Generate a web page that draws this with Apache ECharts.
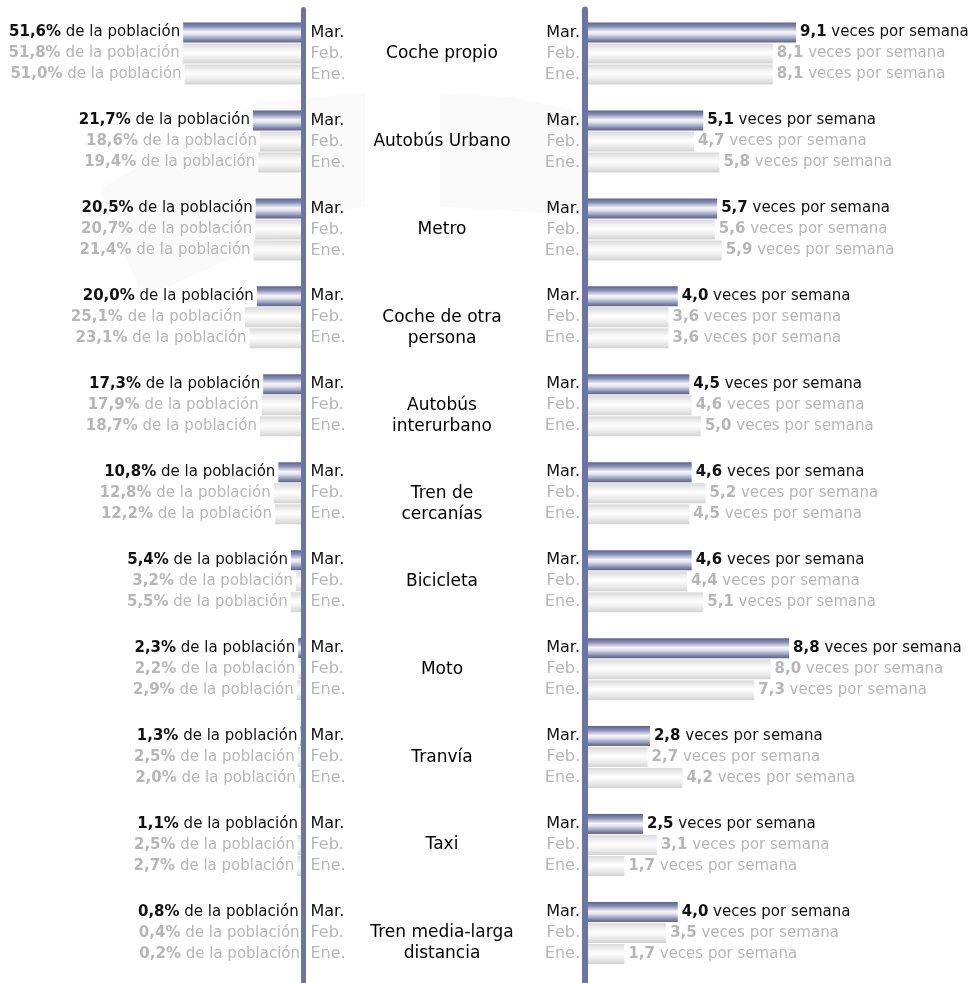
<!DOCTYPE html>
<html>
<head>
<meta charset="utf-8">
<script src="https://cdn.jsdelivr.net/npm/echarts@6/dist/echarts.min.js"></script>
<style>
html,body{margin:0;padding:0;background:#fff;}
#chart{width:975px;height:983px;}
</style>
</head>
<body>
<div id="chart"></div>
<script>
// ---- data ----
const categories = ['Coche propio', 'Autobús Urbano', 'Metro', 'Coche de otra\npersona', 'Autobús\ninterurbano',
  'Tren de\ncercanías', 'Bicicleta', 'Moto', 'Tranvía', 'Taxi', 'Tren media-larga\ndistancia'];
const months = ['Mar.', 'Feb.', 'Ene.'];
const pctMar = [51.6, 21.7, 20.5, 20.0, 17.3, 10.8, 5.4, 2.3, 1.3, 1.1, 0.8];
const pctFeb = [51.8, 18.6, 20.7, 25.1, 17.9, 12.8, 3.2, 2.2, 2.5, 2.5, 0.4];
const pctEne = [51.0, 19.4, 21.4, 23.1, 18.7, 12.2, 5.5, 2.9, 2.0, 2.7, 0.2];
const freqMar = [9.1, 5.1, 5.7, 4.0, 4.5, 4.6, 4.6, 8.8, 2.8, 2.5, 4.0];
const freqFeb = [8.1, 4.7, 5.6, 3.6, 4.6, 5.2, 4.4, 8.0, 2.7, 3.1, 3.5];
const freqEne = [8.1, 5.8, 5.9, 3.6, 5.0, 4.5, 5.1, 7.3, 4.2, 1.7, 1.7];
const pctSeries = [pctMar, pctFeb, pctEne];
const freqSeries = [freqMar, freqFeb, freqEne];

// ---- styles ----
const FONT = '"DejaVu Sans", sans-serif';
const AXIS_COLOR = '#6b74a3';
const DARK = '#111111';
const GRAY = '#b6b6b6';
const G = echarts.graphic.LinearGradient;
const marGrad = () => new G(0, 0, 0, 1, [
  {offset: 0, color: '#5a6291'}, {offset: 0.2, color: '#878db3'},
  {offset: 0.47, color: '#f6f6fa'}, {offset: 0.6, color: '#e2e3ec'},
  {offset: 0.85, color: '#878db3'}, {offset: 1, color: '#5a6291'}]);
const grayGrad = () => new G(0, 0, 0, 1, [
  {offset: 0, color: '#dadada'}, {offset: 0.45, color: '#ffffff'},
  {offset: 0.75, color: '#ebebeb'}, {offset: 1, color: '#d2d2d2'}]);
const fmt = v => v.toFixed(1).replace('.', ',');

const TOP = 9.5, HEIGHT = 967.5;
const chart = echarts.init(document.getElementById('chart'), null, {renderer: 'canvas'});

const catAxis = (gridIndex, position, extra) => Object.assign({
  type: 'category', data: categories, inverse: true, gridIndex: gridIndex, position: position,
  axisTick: {show: false}, axisLabel: {show: false}, splitLine: {show: false}
}, extra);

const series = [];
months.forEach((m, i) => {
  const dark = i === 0;
  const col = dark ? DARK : GRAY;
  // left: % of population
  series.push({
    type: 'bar', name: m + ' pct', xAxisIndex: 0, yAxisIndex: 0, data: pctSeries[i],
    barWidth: 20, barGap: '5%', silent: true,
    itemStyle: {color: dark ? marGrad() : grayGrad()},
    label: {show: true, position: 'left', distance: 3, fontFamily: FONT,
      formatter: p => '{b|' + fmt(p.value) + '%}{n| de la población}',
      rich: {b: {fontFamily: FONT, fontSize: 15, fontWeight: 'bold', color: col},
             n: {fontFamily: FONT, fontSize: 15, color: col}}}
  });
  // left month labels
  series.push({
    type: 'bar', name: m + ' pct-m', xAxisIndex: 0, yAxisIndex: 1, data: pctSeries[i],
    barWidth: 20, barGap: '5%', silent: true,
    itemStyle: {color: 'rgba(0,0,0,0)'},
    label: {show: true, position: 'right', distance: 7, formatter: m,
      fontFamily: FONT, fontSize: 16, color: col}
  });
  // right: frequency
  series.push({
    type: 'bar', name: m + ' freq', xAxisIndex: 1, yAxisIndex: 2, data: freqSeries[i],
    barWidth: 20, barGap: '5%', silent: true,
    itemStyle: {color: dark ? marGrad() : grayGrad()},
    label: {show: true, position: 'right', distance: 4, fontFamily: FONT,
      formatter: p => '{b|' + fmt(p.value) + '}{n| veces por semana}',
      rich: {b: {fontFamily: FONT, fontSize: 15, fontWeight: 'bold', color: col},
             n: {fontFamily: FONT, fontSize: 15, color: col}}}
  });
  // right month labels
  series.push({
    type: 'bar', name: m + ' freq-m', xAxisIndex: 1, yAxisIndex: 3, data: freqSeries[i],
    barWidth: 20, barGap: '5%', silent: true,
    itemStyle: {color: 'rgba(0,0,0,0)'},
    label: {show: true, position: 'left', distance: 5, formatter: m,
      fontFamily: FONT, fontSize: 16, color: col}
  });
});

chart.setOption({
  animation: false,
  backgroundColor: '#ffffff',
  grid: [
    {left: 5, width: 298.5, top: TOP, height: HEIGHT},
    {left: 585, width: 371, top: TOP, height: HEIGHT}
  ],
  xAxis: [
    {type: 'value', gridIndex: 0, min: 0, max: 128, inverse: true, show: false},
    {type: 'value', gridIndex: 1, min: 0, max: 16, show: false}
  ],
  yAxis: [
    catAxis(0, 'right', {z: 10,
      axisLine: {show: true, lineStyle: {color: AXIS_COLOR, width: 5}},
      axisLabel: {show: true, inside: false, margin: 138.5, align: 'center',
        fontFamily: FONT, fontSize: 17, color: '#000', lineHeight: 21, padding: [6, 0, 0, 0],
        formatter: v => v.indexOf('\n') >= 0 ? '\n' + v : v}}),
    catAxis(0, 'right', {show: false}),
    catAxis(1, 'left', {z: 10, axisLine: {show: true, lineStyle: {color: AXIS_COLOR, width: 6}}}),
    catAxis(1, 'left', {show: false})
  ],
  graphic: {elements: [
    {id: 'wm1', type: 'polygon', z: -100, silent: true, shape: {points: [[100, 188], [262, 100], [300, 100], [300, 228], [142, 298]]}, style: {fill: '#fafafa'}},
    {id: 'wm2', type: 'polygon', z: -100, silent: true, shape: {points: [[306, 98], [365, 93], [365, 207], [306, 215]]}, style: {fill: '#fafafa'}},
    {id: 'wm3', type: 'polygon', z: -100, silent: true, shape: {points: [[440, 93], [510, 97], [582, 112], [582, 215], [440, 207]]}, style: {fill: '#fafafa'}}
  ]},
  series: series
});

// extend both axis lines down to the bottom edge, as in the reference
const bottom = TOP + HEIGHT;
const xl = chart.convertToPixel({xAxisIndex: 0}, 0);
const xr = chart.convertToPixel({xAxisIndex: 1}, 0);
chart.setOption({graphic: {elements: [
  {id: 'extL', type: 'rect', z: 100, silent: true, shape: {x: xl - 2.5, y: bottom - 1, width: 5, height: 983 - bottom + 1}, style: {fill: AXIS_COLOR}},
  {id: 'extR', type: 'rect', z: 100, silent: true, shape: {x: xr - 3, y: bottom - 1, width: 6, height: 983 - bottom + 1}, style: {fill: AXIS_COLOR}}
]}});
</script>
</body>
</html>
